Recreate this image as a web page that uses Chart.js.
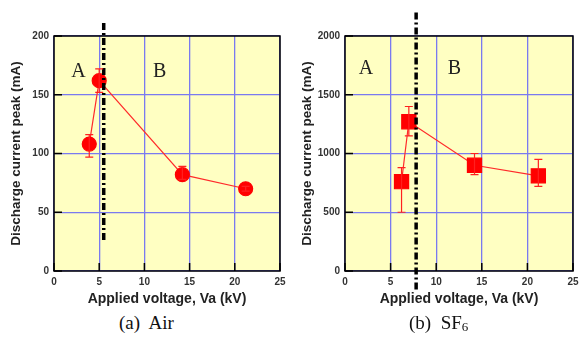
<!DOCTYPE html>
<html>
<head>
<meta charset="utf-8">
<script src="https://cdn.jsdelivr.net/npm/chart.js@4"></script>
<style>
body { margin:0; background:#fff; width:585px; height:342px; position:relative; overflow:hidden; }
.box { position:absolute; top:0; }
.cap { position:absolute; top:312px; font-family:"Liberation Serif","DejaVu Serif",serif; font-size:19px; color:#111; white-space:pre; }
</style>
</head>
<body>
<div class="box" style="left:0px;"><canvas id="AirChart" width="292" height="308"></canvas></div>
<div class="box" style="left:291px;"><canvas id="SfChart" width="294" height="308"></canvas></div>
<div class="cap" style="left:119px;">(a)  Air</div>
<div class="cap" style="left:409px;">(b)  SF<sub style="font-size:13px;vertical-align:-2px;">6</sub></div>
<script>
/* Air data */
let airVolt = [3.9, 5.0, 14.2, 21.2];
let airPeak = [108, 162, 82, 70];
let airLow = [97, 152, 78, 68];
let airHigh = [116, 172, 89, 72];
let airBorderX = [5.5, 5.5];//A/B boundary line
let airBorderY = [211, 26];

/* SF6 data */
let sfVolt = [6.2, 7.0, 14.2, 21.2];
let sfPeak = [760, 1270, 900, 810];
let sfLow = [500, 1150, 820, 720];
let sfHigh = [880, 1400, 1000, 950];
let sfBorderX = [7.8, 7.8];
let sfBorderY = [2200, -170];

const xTicks = [0, 5, 10, 15, 20, 25];
const airTicks = [0, 50, 100, 150, 200];
const sfTicks = [0, 500, 1000, 1500, 2000];

const gridBlue = '#7a7af0';

//----------------------------------------------------------------------//

//background, frame, tick marks, error bars and A/B letters
const plotDeco = {
    id: 'plotDeco',
    beforeDraw(chart) {
        const a = chart.chartArea;
        const ctx = chart.ctx;
        ctx.save();
        ctx.fillStyle = '#ffffc2';
        ctx.fillRect(a.left, a.top, a.right - a.left, a.bottom - a.top);
        ctx.restore();
    },
    afterDatasetsDraw(chart, args, opts) {
        const a = chart.chartArea;
        const ctx = chart.ctx;
        const xs = chart.scales.x, ys = chart.scales.y;
        ctx.save();
        //frame
        ctx.strokeStyle = '#000';
        ctx.lineWidth = 1.5;
        ctx.strokeRect(a.left, a.top, a.right - a.left, a.bottom - a.top);
        //tick marks
        ctx.beginPath();
        xTicks.forEach(v => {
            const px = xs.getPixelForValue(v);
            ctx.moveTo(px, a.bottom); ctx.lineTo(px, a.bottom - 8);
        });
        opts.yTicks.forEach(v => {
            const py = ys.getPixelForValue(v);
            ctx.moveTo(a.left, py); ctx.lineTo(a.left + 8, py);
        });
        ctx.stroke();
        //error bars
        ctx.strokeStyle = '#ff2020';
        ctx.lineWidth = 1.2;
        opts.xv.forEach((v, i) => {
            const px = xs.getPixelForValue(v);
            const lo = ys.getPixelForValue(opts.low[i]);
            const hi = ys.getPixelForValue(opts.high[i]);
            ctx.beginPath();
            ctx.moveTo(px, lo); ctx.lineTo(px, hi);
            ctx.moveTo(px - 4, lo); ctx.lineTo(px + 4, lo);
            ctx.moveTo(px - 4, hi); ctx.lineTo(px + 4, hi);
            ctx.stroke();
        });
        //letters
        ctx.fillStyle = '#222';
        ctx.font = '20px "Liberation Serif", serif';
        ctx.textAlign = 'center';
        ctx.textBaseline = 'middle';
        opts.letters.forEach(l => {
            ctx.fillText(l.t, xs.getPixelForValue(l.x), ys.getPixelForValue(l.y));
        });
        ctx.restore();
    }
};

function makeChart(canvas, xv, yv, low, high, bx, by, yMax, yTicks, marker, radius, letters, padL) {
    return new Chart(canvas, {
        type: 'scatter',
        data: {
            datasets: [{
                type: 'line',
                data: xv.map((v, i) => ({x: v, y: yv[i]})),
                borderColor: '#ff2a2a',
                borderWidth: 1.2,
                backgroundColor: '#ff0000',
                pointBackgroundColor: '#ff0000',
                pointBorderColor: '#ff0000',
                pointStyle: marker,
                pointRadius: radius,
                order: 1
            }, {
                type: 'line',
                data: bx.map((v, i) => ({x: v, y: by[i]})),
                borderColor: '#000',
                borderWidth: 3.5,
                borderDash: [7, 3, 2, 3],
                pointRadius: 0,
                clip: false,
                order: 0
            }]
        },
        options: {
            responsive: false,
            animation: false,
            layout: { padding: { left: padL, top: 36, right: 12, bottom: 0 } },
            plugins: {
                legend: { display: false },
                tooltip: { enabled: false },
                plotDeco: { xv: xv, low: low, high: high, letters: letters, yTicks: yTicks }
            },
            scales: {
                x: {
                    type: 'linear', min: 0, max: 25,
                    afterBuildTicks: s => { s.ticks = xTicks.map(v => ({value: v})); },
                    afterFit: s => { s.height = 37; },
                    grid: { color: gridBlue, lineWidth: 1.3, drawTicks: false },
                    border: { display: false },
                    ticks: { color: '#333', padding: 5, callback: v => String(v),
                             font: { family: 'Liberation Sans', size: 10, weight: 'bold' } },
                    title: { display: true, text: 'Applied voltage, Va (kV)', color: '#222', padding: { top: 0, bottom: 0 },
                             font: { family: 'Liberation Sans', size: 14, weight: 'bold' } }
                },
                y: {
                    type: 'linear', min: 0, max: yMax,
                    afterBuildTicks: s => { s.ticks = yTicks.map(v => ({value: v})); },
                    afterFit: s => { s.width = 54 - padL; },
                    grid: { color: gridBlue, lineWidth: 1.3, drawTicks: false },
                    border: { display: false },
                    ticks: { color: '#333', padding: 5, callback: v => String(v),
                             font: { family: 'Liberation Sans', size: 10, weight: 'bold' } },
                    title: { display: true, text: 'Discharge current peak (mA)', color: '#222', padding: { top: 0, bottom: 2 },
                             font: { family: 'Liberation Sans', size: 13.5, weight: 'bold' } }
                }
            }
        },
        plugins: [plotDeco]
    });
}

let AirChart = makeChart(document.getElementById('AirChart'), airVolt, airPeak, airLow, airHigh,
    airBorderX, airBorderY, 200, airTicks, 'circle', 7,
    [{t: 'A', x: 2.7, y: 170}, {t: 'B', x: 11.7, y: 170}], 8);

let SfChart = makeChart(document.getElementById('SfChart'), sfVolt, sfPeak, sfLow, sfHigh,
    sfBorderX, sfBorderY, 2000, sfTicks, 'rect', 10,
    [{t: 'A', x: 2.3, y: 1720}, {t: 'B', x: 12, y: 1720}], 8);
</script>
</body>
</html>
